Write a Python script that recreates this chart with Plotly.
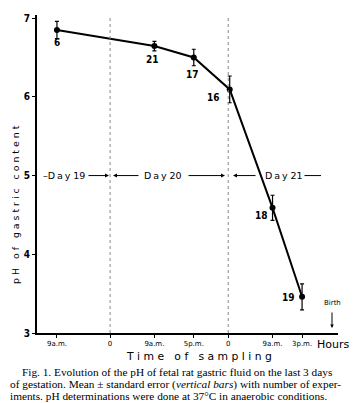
import plotly.graph_objects as go

# ---- data ----
time_hours = [-10.8, 9, 17, 24.3, 33, 39]          # hours from midnight day19/20
ph_mean = [6.85, 6.645, 6.50, 6.095, 4.59, 3.46]
ph_se = [0.11, 0.06, 0.105, 0.17, 0.16, 0.165]
n_exp = ["6", "21", "17", "16", "18", "19"]
tick_vals = [-10.8, 0, 9, 17, 24, 33, 39]
tick_text = ["9a.m.", "0", "9a.m.", "5p.m.", "0", "9a.m.", "3p.m."]
y_ticks = [3, 4, 5, 6, 7]

W, H = 354, 403
L, R, T, B = 37, 338, 15, 333
XR = [-14.85, 46.3]
YR = [3, 7.04]

def px(x, y):
    return (x - L) / (R - L), (B - y) / (B - T)

fig = go.Figure()
fig.add_trace(go.Scatter(
    x=time_hours, y=ph_mean, mode="lines+markers",
    line=dict(color="black", width=2),
    marker=dict(color="black", size=6),
    error_y=dict(type="data", array=ph_se, color="black", thickness=1.2, width=2),
    showlegend=False, hoverinfo="skip"))

ann = []
# n labels
offsets = [(0, 13), (-2, 13), (-1, 17), (-16, 8), (-11, 8), (-14, 1)]
for xv, yv, t, (dx, dy) in zip(time_hours, ph_mean, n_exp, offsets):
    ann.append(dict(x=xv, y=yv, text="<b>" + t + "</b>", showarrow=False,
                    xshift=dx, yshift=-dy, xanchor="center", yanchor="middle",
                    font=dict(family="Liberation Sans Narrow, DejaVu Sans Condensed, Arial", size=10, color="black")))

def xpx(p):
    return XR[0] + (p - L) / (R - L) * (XR[1] - XR[0])

dayfont = dict(family="DejaVu Sans", size=9.5, color="black")
def sp(s):
    return "\u2009".join(s)
# Day labels
ann.append(dict(x=xpx(64), y=5, text="\u2013" + sp("Day") + " 19", showarrow=False, font=dayfont,
                xanchor="center", yanchor="middle"))
ann.append(dict(x=xpx(163), y=5, text=sp("Day") + " 20", showarrow=False, font=dayfont,
                xanchor="center", yanchor="middle"))
ann.append(dict(x=xpx(284), y=5, text=sp("Day") + " 21", showarrow=False, font=dayfont,
                xanchor="center", yanchor="middle"))
arrows = [(87, 109, True), (140, 113, True), (187, 225, True), (257, 233, True), (303, 321, False)]
for a, b, head in arrows:
    ann.append(dict(x=xpx(b), y=5, ax=xpx(a), ay=5, axref="x", ayref="y", xref="x", yref="y",
                    text="", showarrow=True, arrowhead=2 if head else 0, arrowsize=0.8,
                    arrowwidth=1, arrowcolor="black", standoff=0, startstandoff=0))

def paper_text(x, y, text, font, **kw):
    p = px(x, y)
    d = dict(xref="paper", yref="paper", x=p[0], y=p[1], text=text, showarrow=False,
             xanchor="center", yanchor="middle", font=font)
    d.update(kw)
    ann.append(d)

# Birth
paper_text(332, 303, "Birth", dict(family="DejaVu Sans", size=7, color="black"))
b2 = px(332, 328)
ann.append(dict(xref="paper", yref="paper", x=b2[0], y=b2[1], ax=0, ay=-17,
                text="", showarrow=True, arrowhead=2,
                arrowsize=0.7, arrowwidth=1, arrowcolor="black"))

# Hours
paper_text(333, 344, "Hours", dict(family="DejaVu Sans", size=11, color="black"))

# axis titles
NB = "\u00a0"
paper_text(199, 356, NB.join("Time") + NB * 3 + NB.join("of") + NB * 3 + NB.join("sampling"),
           dict(family="DejaVu Sans", size=10.8, color="black"))
paper_text(15, 205, NB.join("pH") + NB * 3 + NB.join("of") + NB * 3 + NB.join("gastric") + NB * 3 + NB.join("content"),
           dict(family="DejaVu Sans", size=9.4, color="black"), textangle=-90)

# caption
cap = [
    (20, 372, "Fig. 1. Evolution of the pH of fetal rat gastric fluid on the last 3 days"),
    (8, 384, "of gestation. Mean \u00b1 standard error (<i>vertical bars</i>) with number of exper-"),
    (8, 396, "iments. pH determinations were done at 37\u00b0C in anaerobic conditions."),
]
for cx, cy, t in cap:
    paper_text(cx, cy, t, dict(family="Liberation Serif, Times New Roman", size=11.3, color="black"),
               xanchor="left")

shapes = []
for xv in [0, 24]:
    shapes.append(dict(type="line", x0=xv, x1=xv, y0=3, y1=7.04, xref="x", yref="y",
                       line=dict(color="#888", width=1, dash="dot")))

fig.update_layout(
    width=W, height=H, margin=dict(l=L, r=W - R, t=T, b=H - B),
    paper_bgcolor="white", plot_bgcolor="white",
    annotations=ann, shapes=shapes,
    xaxis=dict(range=XR, showgrid=False, zeroline=False, showline=True, linecolor="black",
               linewidth=2, tickvals=tick_vals, ticktext=tick_text, ticks="outside",
               ticklen=3, tickwidth=1, tickcolor="black",
               tickfont=dict(family="DejaVu Sans", size=7, color="black")),
    yaxis=dict(range=YR, showgrid=False, zeroline=False, showline=True, linecolor="black",
               linewidth=2, tickvals=y_ticks, ticks="outside", ticklen=3, tickwidth=1,
               tickcolor="black",
               tickfont=dict(family="Liberation Sans Narrow, DejaVu Sans Condensed, Arial", size=10, color="black",
                             weight="bold")),
)
fig.write_html("out.html")
